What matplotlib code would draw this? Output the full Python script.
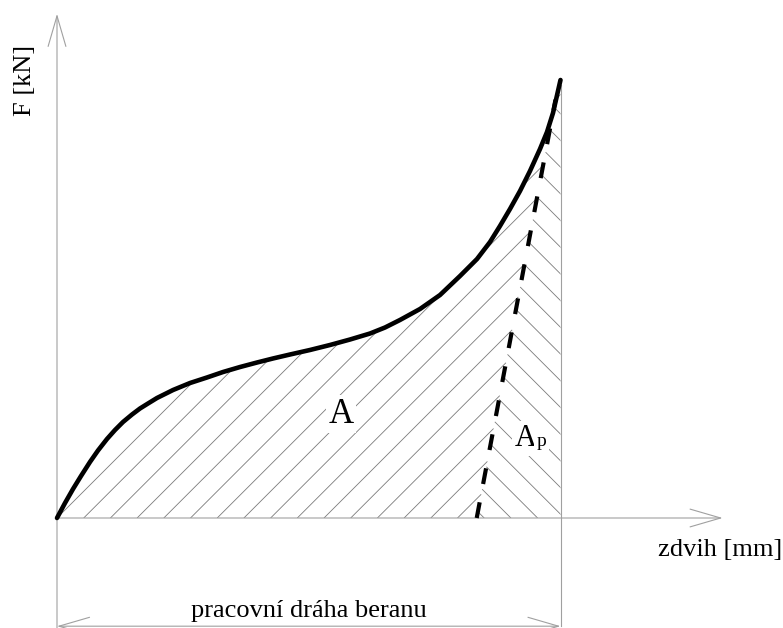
import matplotlib.pyplot as plt
import numpy as np
from matplotlib.collections import LineCollection
from matplotlib.patches import Polygon

plt.rcParams['font.family'] = ['Liberation Serif', 'DejaVu Serif']
plt.rcParams['lines.scale_dashes'] = False

# working curve of the press (stroke in % of working path, force in % of max)
stroke = [0, 1.59, 3.18, 4.77, 6.55, 8.14, 9.93, 11.52, 13.11, 14.90, 16.48, 18.07,
          19.86, 23.04, 26.42, 29.79, 32.97, 36.35, 39.72, 42.90, 46.28, 50.25,
          54.22, 58.19, 62.16, 65.14, 68.12, 72.10, 76.07, 80.04, 83.42, 86.00,
          87.98, 89.97, 91.96, 93.94, 95.93, 97.32, 98.51, 100.0]
force = [0, 3.42, 6.62, 9.59, 12.79, 15.41, 18.04, 20.09, 21.92, 23.63, 25.00, 26.14,
         27.40, 29.22, 30.82, 32.08, 33.33, 34.47, 35.50, 36.42, 37.33, 38.36,
         39.50, 40.75, 42.12, 43.49, 45.21, 47.72, 50.91, 55.25, 59.13, 63.01,
         66.67, 70.55, 74.66, 79.22, 84.25, 88.13, 92.47, 100.0]

# dividing line between A and Ap
split_stroke = [83.36, 99.0]
split_force = [0, 95.5]

XPX, YPX = 5.035, 4.38   # pixels per unit
HATCH = 26.7             # hatch spacing in pixels
axis_col = '#a0a0a0'
hatch_col = '#7a7a7a'

fig = plt.figure(figsize=(7.83, 6.28), dpi=100)
ax = fig.add_axes([0, 0, 1, 1])
ax.axis('off')
ax.set_xlim(-57 / XPX, (783 - 57) / XPX)
ax.set_ylim(-(628 - 518) / YPX, 518 / YPX)

# area under the curve, used as clip
area = Polygon(np.column_stack([stroke + [stroke[-1]], force + [0]]),
               closed=True, facecolor='none', edgecolor='none')
ax.add_patch(area)


def hatch(sign, m_range):
    p0s, p1s, p1f = split_stroke[0], split_stroke[1], split_force[1]
    segs = []
    for m in m_range:
        c = m * HATCH / XPX
        u = (p0s - c) / (sign * p1f * YPX / XPX - (p1s - p0s))
        if u < 0:
            continue
        t_end = u * p1f * YPX if u <= 1 else 600
        t = np.array([0, t_end])
        segs.append(np.column_stack([c + sign * t / XPX, t / YPX]))
    lc = LineCollection(segs, colors=hatch_col, linewidths=0.6)
    ax.add_collection(lc)
    lc.set_clip_path(area)


hatch(1, range(0, 18))
hatch(-1, range(16, 40))

# the curve and the split line
ax.plot(stroke, force, color='black', lw=3.3, solid_capstyle='round',
        solid_joinstyle='round', zorder=5)
ax.plot(split_stroke, split_force, color='black', lw=3.0, dashes=[11.5, 13.4],
        dash_capstyle='butt', zorder=5)

# axes with open arrows
arrow = dict(arrowstyle='->,head_length=1.1,head_width=0.32', color=axis_col,
             lw=0.8, shrinkA=0, shrinkB=0, mutation_scale=20)
ax.annotate('', xy=(0, 115.1), xytext=(0, -26), arrowprops=arrow)
ax.annotate('', xy=(132.2, 0), xytext=(0, 0), arrowprops=arrow)
ax.plot([stroke[-1], stroke[-1]], [force[-1] - 1.2, -24.7], color=axis_col, lw=0.8)
dim = dict(arrow, arrowstyle='<->,head_length=1.1,head_width=0.32')
ax.annotate('', xy=(0, -24.7), xytext=(stroke[-1], -24.7), arrowprops=dim)

# labels
ax.text(-6.4, 100, 'F [kN]', rotation=90, ha='center', va='center', fontsize=19)
ax.text(131.7, -7.4, 'zdvih [mm]', ha='center', va='center', fontsize=19)
ax.text(50, -22.6, 'pracovní dráha beranu', ha='center', va='baseline', fontsize=19)
box = dict(facecolor='white', edgecolor='none', pad=2)
ax.text(56.4, 23.7, 'A', ha='center', va='center', fontsize=25, bbox=box, zorder=6)
ax.text(93.15, 16.44, 'A', ha='center', va='baseline', fontsize=22, bbox=box, zorder=6)
ax.text(95.3, 16.44, 'p', ha='left', va='baseline', fontsize=14, bbox=box, zorder=6)

fig.savefig('out.png', dpi=100)
